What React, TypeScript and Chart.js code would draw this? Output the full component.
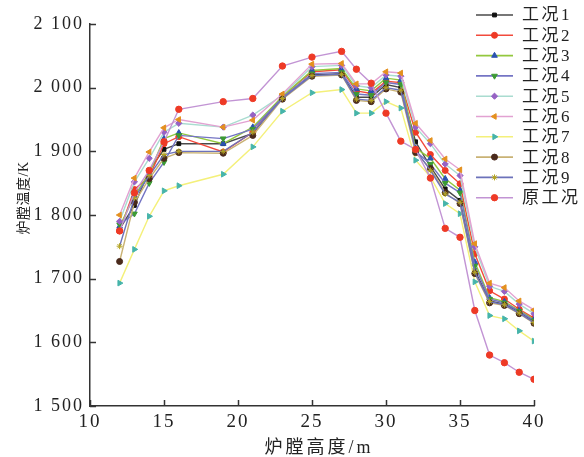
import React, { useEffect, useRef } from 'react';
import { Chart, registerables } from 'chart.js';
import { drawPoint } from 'chart.js/helpers';

Chart.register(...registerables);

// ---- data ----
const heights = [12, 13, 14, 15, 16, 19, 21, 23, 25, 27, 28, 29, 30, 31, 32, 33, 34, 35, 36, 37, 38, 39, 40];
const seriesNames = ['工况1', '工况2', '工况3', '工况4', '工况5', '工况6', '工况7', '工况8', '工况9', '原工况'];
const case1 = [1778, 1815, 1870, 1903, 1912, 1912, 1928, 1985, 2020, 2022, 1985, 1985, 2005, 2000, 1915, 1876, 1841, 1823, 1713, 1665, 1660, 1648, 1632];
const case2 = [1775, 1840, 1860, 1912, 1923, 1899, 1930, 1987, 2025, 2028, 1995, 1991, 2010, 2008, 1930, 1895, 1870, 1849, 1739, 1681, 1668, 1652, 1638];
const case3 = [1782, 1830, 1865, 1920, 1929, 1912, 1938, 1986, 2027, 2030, 1998, 1995, 2015, 2012, 1905, 1889, 1857, 1839, 1726, 1670, 1664, 1650, 1636];
const case4 = [1785, 1802, 1850, 1883, 1925, 1920, 1935, 1984, 2022, 2024, 1990, 1988, 2008, 2005, 1900, 1880, 1850, 1835, 1720, 1668, 1662, 1649, 1634];
const case5 = [1790, 1852, 1889, 1930, 1944, 1938, 1957, 1988, 2033, 2035, 2003, 2000, 2020, 2018, 1938, 1912, 1880, 1862, 1750, 1688, 1680, 1660, 1645];
const case6 = [1800, 1858, 1899, 1937, 1950, 1938, 1949, 1990, 2037, 2038, 2006, 2006, 2025, 2023, 1944, 1917, 1888, 1871, 1755, 1693, 1686, 1665, 1651];
const case7 = [1693, 1746, 1798, 1838, 1846, 1864, 1907, 1963, 1992, 1997, 1960, 1960, 1978, 1968, 1886, 1860, 1818, 1802, 1695, 1642, 1637, 1618, 1602];
const case8 = [1727, 1820, 1857, 1889, 1898, 1897, 1925, 1982, 2018, 2020, 1980, 1978, 1998, 1993, 1898, 1873, 1835, 1818, 1708, 1662, 1658, 1645, 1630];
const case9 = [1751, 1827, 1862, 1895, 1900, 1900, 1930, 1983, 2019, 2021, 1982, 1980, 2000, 1996, 1902, 1870, 1833, 1820, 1710, 1664, 1659, 1646, 1631];
const caseOrig = [1775, 1835, 1870, 1915, 1966, 1978, 1983, 2034, 2048, 2057, 2029, 2007, 1960, 1916, 1903, 1858, 1779, 1765, 1650, 1580, 1568, 1553, 1542];
const seriesValues = [case1, case2, case3, case4, case5, case6, case7, case8, case9, caseOrig];

const xTickValues = [10, 15, 20, 25, 30, 35, 40];
const yTickValues = [1500, 1600, 1700, 1800, 1900, 2000, 2100];
const xTitle = '炉膛高度/m';
const yTitle = '炉膛温度/K';

// ---- styles ----
const lineColors = ['#4a4a4a', '#f24a3c', '#93c83e', '#7474c4', '#a9dcd0', '#e2a2d2', '#f4f07a', '#c9b274', '#6c72ba', '#c294d4'];
const markColors = ['#111111', '#ee3a26', '#2a52b0', '#3c9a34', '#9662c4', '#e4901e', '#46b4aa', '#4a2a1c', '#b4a420', '#ee3a26'];
const markStyles = ['rect', 'circle', 'triangle', 'triangle', 'rectRot', 'triangle', 'triangle', 'circle', 'star', 'circle'];
const markRot = [0, 0, 0, 180, 0, -90, 90, 0, 0, 0];
const markRadius = [2.7, 3.0, 3.3, 3.3, 3.1, 3.3, 3.3, 3.0, 3.0, 3.2];

const FONT = "'Liberation Serif', 'Noto Sans CJK SC', serif";
const TEXT = '#222222';

const fmt = (v: number) => String(v).replace(/\B(?=(\d{3})+(?!\d))/g, ' ');

const spacingPlugin = {
  id: 'tickSpacing',
  beforeDraw(chart: any) {
    (chart.ctx as any).letterSpacing = '2px';
  },
  beforeDatasetsDraw(chart: any) {
    (chart.ctx as any).letterSpacing = '0px';
  },
};

const tickPlugin = {
  id: 'innerTicks',
  afterDraw(chart: any) {
    const { ctx, chartArea, scales } = chart;
    ctx.save();
    ctx.strokeStyle = '#333';
    ctx.lineWidth = 1.5;
    xTickValues.forEach((v) => {
      const px = Math.round(scales.x.getPixelForValue(v)) + 0.5;
      ctx.beginPath();
      ctx.moveTo(px, chartArea.bottom);
      ctx.lineTo(px, chartArea.bottom - 6);
      ctx.stroke();
    });
    yTickValues.forEach((v) => {
      const py = Math.round(scales.y.getPixelForValue(v)) + 0.5;
      ctx.beginPath();
      ctx.moveTo(chartArea.left, py);
      ctx.lineTo(chartArea.left + 6, py);
      ctx.stroke();
    });
    // axis titles
    ctx.fillStyle = TEXT;
    ctx.textAlign = 'center';
    ctx.textBaseline = 'middle';
    (ctx as any).letterSpacing = '3px';
    ctx.font = `18px ${FONT}`;
    ctx.fillText(xTitle, (chartArea.left + chartArea.right) / 2 + 7, 448);
    (ctx as any).letterSpacing = '0.5px';
    ctx.font = `14px ${FONT}`;
    ctx.translate(24, 198);
    ctx.rotate(-Math.PI / 2);
    ctx.fillText(yTitle, 0, 0);
    ctx.restore();
  },
};

const legendPlugin = {
  id: 'sideLegend',
  afterDraw(chart: any) {
    const { ctx } = chart;
    ctx.save();
    ctx.font = `17px ${FONT}`;
    (ctx as any).letterSpacing = '2.5px';
    ctx.textBaseline = 'middle';
    ctx.textAlign = 'left';
    seriesNames.forEach((name, i) => {
      const y = 15 + i * 20.3;
      ctx.strokeStyle = lineColors[i];
      ctx.lineWidth = 1.6;
      ctx.beginPath();
      ctx.moveTo(476, y);
      ctx.lineTo(513, y);
      ctx.stroke();
      ctx.fillStyle = markColors[i];
      ctx.strokeStyle = markColors[i];
      ctx.lineWidth = 1;
      drawPoint(ctx, { pointStyle: markStyles[i], rotation: markRot[i], radius: markRadius[i], borderWidth: 1 } as any, 494.5, y);
      ctx.fillStyle = TEXT;
      ctx.fillText(name, 522, y + 1);
    });
    ctx.restore();
  },
};

export default function App() {
  const ref = useRef<HTMLCanvasElement | null>(null);
  useEffect(() => {
    if (!ref.current) return;
    const datasets = seriesValues.map((vals, i) => ({
      label: seriesNames[i],
      data: heights.map((h, j) => ({ x: h, y: vals[j] })),
      borderColor: lineColors[i],
      backgroundColor: markColors[i],
      pointBackgroundColor: markColors[i],
      pointBorderColor: markColors[i],
      pointStyle: markStyles[i],
      pointRotation: markRot[i],
      pointRadius: markRadius[i],
      pointBorderWidth: 1,
      borderWidth: 1.4,
      tension: 0,
      order: 10 - i,
    }));
    const chart = new Chart(ref.current, {
      type: 'line',
      data: { datasets },
      plugins: [spacingPlugin, tickPlugin, legendPlugin],
      options: {
        animation: false,
        responsive: false,
        layout: { padding: { left: 0, top: 24, right: 50, bottom: 0 } },
        plugins: { legend: { display: false }, tooltip: { enabled: false } },
        scales: {
          x: {
            type: 'linear',
            min: 10,
            max: 40,
            afterBuildTicks: (s: any) => { s.ticks = xTickValues.map((v) => ({ value: v })); },
            afterFit: (s: any) => { s.height = 51; },
            grid: { display: false, drawTicks: false },
            border: { display: true, color: '#333', width: 1.5 },
            ticks: { color: TEXT, font: { family: FONT, size: 19 }, padding: 5, maxRotation: 0 },
            title: { display: false, text: xTitle },
          },
          y: {
            type: 'linear',
            min: 1500,
            max: 2100,
            afterBuildTicks: (s: any) => { s.ticks = yTickValues.map((v) => ({ value: v })); },
            afterFit: (s: any) => { s.width = 90; },
            grid: { display: false, drawTicks: false },
            border: { display: true, color: '#333', width: 1.5 },
            ticks: { color: TEXT, font: { family: FONT, size: 18 }, padding: 6, callback: (v: any) => fmt(Number(v)) },
            title: { display: false, text: yTitle },
          },
        },
      },
    });
    return () => chart.destroy();
  }, []);
  return (
    <div style={{ position: 'absolute', left: 0, top: 0, width: 584, height: 457, background: '#fff' }}>
      <canvas ref={ref} width={584} height={457} style={{ width: 584, height: 457 }} />
    </div>
  );
}
